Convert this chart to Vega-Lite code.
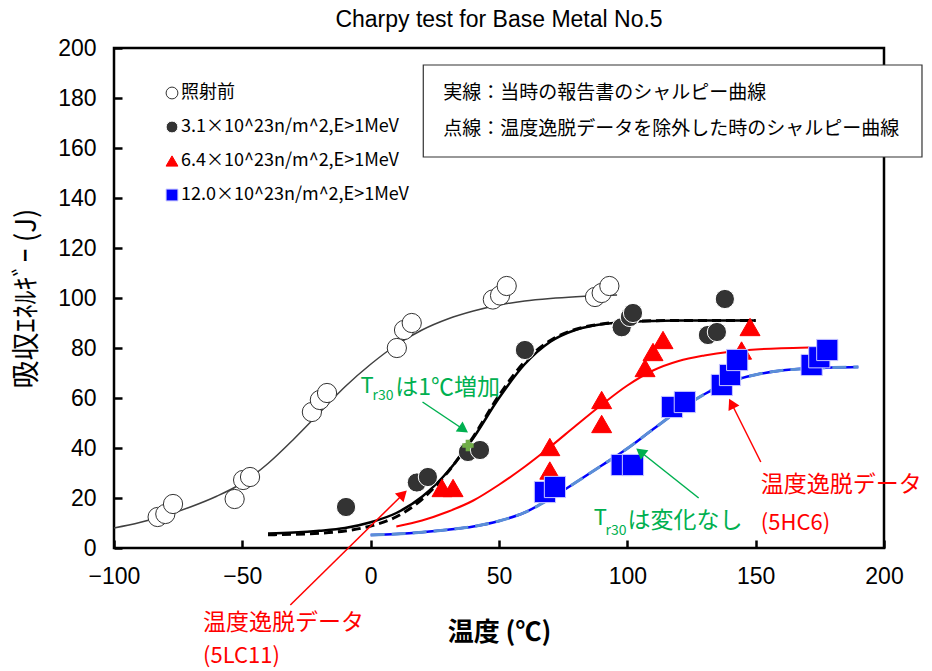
{
  "$schema": "https://vega.github.io/schema/vega-lite/v6.json",
  "width": 770,
  "height": 500,
  "autosize": {"type": "none"},
  "padding": {"left": 114, "top": 48, "right": 48, "bottom": 123},
  "background": "white",
  "title": {"text": "Charpy test for Base Metal No.5", "font": "Liberation Sans", "fontSize": 23, "fontWeight": "normal", "color": "black", "offset": 5},
  "config": {
    "view": {"stroke": "black", "strokeWidth": 2.5},
    "axis": {"grid": false, "domain": false, "labelFlush": false, "tickColor": "black", "tickWidth": 2.5, "tickSize": -8, "labelFont": "Liberation Sans", "labelFontSize": 23, "labelColor": "black", "titleColor": "black", "titleFont": "Noto Sans CJK JP"},
    "legend": {"title": null, "orient": "none", "legendX": 49, "legendY": 36, "symbolSize": 140, "labelFont": "Noto Sans CJK JP", "labelFontSize": 18, "labelColor": "black", "labelLimit": 500, "rowPadding": 16, "labelOffset": 0, "symbolStrokeWidth": 1}
  },
  "datasets": {
    "points": [
      {"s": "照射前", "T": -83, "E": 12.4}, {"s": "照射前", "T": -80, "E": 13.6}, {"s": "照射前", "T": -77, "E": 17.6},
      {"s": "照射前", "T": -53, "E": 19.6}, {"s": "照射前", "T": -49.7, "E": 27.2}, {"s": "照射前", "T": -47, "E": 28.4},
      {"s": "照射前", "T": -22.9, "E": 54.4}, {"s": "照射前", "T": -19.8, "E": 59.2}, {"s": "照射前", "T": -17, "E": 62},
      {"s": "照射前", "T": 10.2, "E": 80}, {"s": "照射前", "T": 13, "E": 87.2}, {"s": "照射前", "T": 16, "E": 90},
      {"s": "照射前", "T": 47.6, "E": 99.4}, {"s": "照射前", "T": 50.4, "E": 101}, {"s": "照射前", "T": 53, "E": 104.8},
      {"s": "照射前", "T": 87.4, "E": 100.4}, {"s": "照射前", "T": 90, "E": 102}, {"s": "照射前", "T": 93, "E": 104.8},
      {"s": "3.1×10^23n/m^2,E>1MeV", "T": -9.6, "E": 16.4}, {"s": "3.1×10^23n/m^2,E>1MeV", "T": 18, "E": 26.2}, {"s": "3.1×10^23n/m^2,E>1MeV", "T": 22.3, "E": 28.4},
      {"s": "3.1×10^23n/m^2,E>1MeV", "T": 37.9, "E": 38.4}, {"s": "3.1×10^23n/m^2,E>1MeV", "T": 42.6, "E": 39.2}, {"s": "3.1×10^23n/m^2,E>1MeV", "T": 60.1, "E": 79.2},
      {"s": "3.1×10^23n/m^2,E>1MeV", "T": 97.8, "E": 88.3}, {"s": "3.1×10^23n/m^2,E>1MeV", "T": 101, "E": 92.4}, {"s": "3.1×10^23n/m^2,E>1MeV", "T": 102.2, "E": 94},
      {"s": "3.1×10^23n/m^2,E>1MeV", "T": 131.4, "E": 85.2}, {"s": "3.1×10^23n/m^2,E>1MeV", "T": 134.9, "E": 86.4}, {"s": "3.1×10^23n/m^2,E>1MeV", "T": 138, "E": 99.6},
      {"s": "6.4×10^23n/m^2,E>1MeV", "T": 27.8, "E": 24}, {"s": "6.4×10^23n/m^2,E>1MeV", "T": 32.1, "E": 24},
      {"s": "6.4×10^23n/m^2,E>1MeV", "T": 69.8, "E": 31}, {"s": "6.4×10^23n/m^2,E>1MeV", "T": 69.8, "E": 40.4},
      {"s": "6.4×10^23n/m^2,E>1MeV", "T": 90, "E": 49.6}, {"s": "6.4×10^23n/m^2,E>1MeV", "T": 90, "E": 59.2},
      {"s": "6.4×10^23n/m^2,E>1MeV", "T": 106.9, "E": 72}, {"s": "6.4×10^23n/m^2,E>1MeV", "T": 110, "E": 78.4}, {"s": "6.4×10^23n/m^2,E>1MeV", "T": 113.9, "E": 83.2},
      {"s": "6.4×10^23n/m^2,E>1MeV", "T": 144.5, "E": 79}, {"s": "6.4×10^23n/m^2,E>1MeV", "T": 147.8, "E": 88.4},
      {"s": "12.0×10^23n/m^2,E>1MeV", "T": 67.9, "E": 22.4}, {"s": "12.0×10^23n/m^2,E>1MeV", "T": 71.8, "E": 24.4},
      {"s": "12.0×10^23n/m^2,E>1MeV", "T": 97.8, "E": 33.2}, {"s": "12.0×10^23n/m^2,E>1MeV", "T": 102.2, "E": 33.2},
      {"s": "12.0×10^23n/m^2,E>1MeV", "T": 117.4, "E": 56.4}, {"s": "12.0×10^23n/m^2,E>1MeV", "T": 122.4, "E": 58.4},
      {"s": "12.0×10^23n/m^2,E>1MeV", "T": 136.8, "E": 65.2}, {"s": "12.0×10^23n/m^2,E>1MeV", "T": 140, "E": 69.2}, {"s": "12.0×10^23n/m^2,E>1MeV", "T": 142.8, "E": 75.2},
      {"s": "12.0×10^23n/m^2,E>1MeV", "T": 171.8, "E": 73.2}, {"s": "12.0×10^23n/m^2,E>1MeV", "T": 174.8, "E": 76.3}, {"s": "12.0×10^23n/m^2,E>1MeV", "T": 177.9, "E": 79.2}
    ],
    "curves": [
      {"c": "open", "T": -100, "E": 8}, {"c": "open", "T": -90, "E": 10.2}, {"c": "open", "T": -80, "E": 13}, {"c": "open", "T": -70, "E": 16.5},
      {"c": "open", "T": -60, "E": 20.7}, {"c": "open", "T": -50, "E": 26}, {"c": "open", "T": -40, "E": 33.8}, {"c": "open", "T": -30, "E": 43.5},
      {"c": "open", "T": -20, "E": 54}, {"c": "open", "T": -10, "E": 64.5}, {"c": "open", "T": 0, "E": 73.5}, {"c": "open", "T": 10, "E": 81.2},
      {"c": "open", "T": 20, "E": 87.2}, {"c": "open", "T": 30, "E": 91.6}, {"c": "open", "T": 40, "E": 94.8}, {"c": "open", "T": 50, "E": 97.2},
      {"c": "open", "T": 60, "E": 98.8}, {"c": "open", "T": 70, "E": 99.8}, {"c": "open", "T": 80, "E": 100.5}, {"c": "open", "T": 90, "E": 101}, {"c": "open", "T": 96, "E": 101.2},
      {"c": "black", "T": -40, "E": 5.8}, {"c": "black", "T": -30, "E": 6.2}, {"c": "black", "T": -20, "E": 6.9}, {"c": "black", "T": -10, "E": 8},
      {"c": "black", "T": 0, "E": 10.3}, {"c": "black", "T": 10, "E": 14}, {"c": "black", "T": 20, "E": 20.5}, {"c": "black", "T": 30, "E": 30.5},
      {"c": "black", "T": 40, "E": 44}, {"c": "black", "T": 50, "E": 60}, {"c": "black", "T": 60, "E": 73.5}, {"c": "black", "T": 70, "E": 82.5},
      {"c": "black", "T": 80, "E": 87.3}, {"c": "black", "T": 90, "E": 89.5}, {"c": "black", "T": 100, "E": 90.4}, {"c": "black", "T": 110, "E": 90.8},
      {"c": "black", "T": 120, "E": 91}, {"c": "black", "T": 130, "E": 91}, {"c": "black", "T": 140, "E": 91}, {"c": "black", "T": 150, "E": 91},
      {"c": "blackdash", "T": -40, "E": 5.3}, {"c": "blackdash", "T": -30, "E": 5.5}, {"c": "blackdash", "T": -20, "E": 5.9}, {"c": "blackdash", "T": -10, "E": 6.8},
      {"c": "blackdash", "T": 0, "E": 8.8}, {"c": "blackdash", "T": 10, "E": 12.5}, {"c": "blackdash", "T": 20, "E": 19.5}, {"c": "blackdash", "T": 30, "E": 30.3},
      {"c": "blackdash", "T": 40, "E": 44.5}, {"c": "blackdash", "T": 50, "E": 61}, {"c": "blackdash", "T": 60, "E": 74.5}, {"c": "blackdash", "T": 70, "E": 83},
      {"c": "blackdash", "T": 80, "E": 87.5}, {"c": "blackdash", "T": 90, "E": 89.6}, {"c": "blackdash", "T": 100, "E": 90.5}, {"c": "blackdash", "T": 110, "E": 90.9},
      {"c": "blackdash", "T": 120, "E": 91}, {"c": "blackdash", "T": 130, "E": 91}, {"c": "blackdash", "T": 140, "E": 91}, {"c": "blackdash", "T": 150, "E": 91},
      {"c": "red", "T": 10, "E": 8.6}, {"c": "red", "T": 20, "E": 11}, {"c": "red", "T": 30, "E": 14.5}, {"c": "red", "T": 40, "E": 19},
      {"c": "red", "T": 50, "E": 25.3}, {"c": "red", "T": 60, "E": 32.5}, {"c": "red", "T": 70, "E": 40.5}, {"c": "red", "T": 80, "E": 49},
      {"c": "red", "T": 90, "E": 57.3}, {"c": "red", "T": 100, "E": 65}, {"c": "red", "T": 110, "E": 71}, {"c": "red", "T": 120, "E": 74.8},
      {"c": "red", "T": 130, "E": 77}, {"c": "red", "T": 140, "E": 78.5}, {"c": "red", "T": 150, "E": 79.4}, {"c": "red", "T": 160, "E": 79.9}, {"c": "red", "T": 171, "E": 80.2},
      {"c": "blue", "T": 0, "E": 5.2}, {"c": "blue", "T": 10, "E": 5.6}, {"c": "blue", "T": 20, "E": 6.3}, {"c": "blue", "T": 30, "E": 7.3},
      {"c": "blue", "T": 40, "E": 8.6}, {"c": "blue", "T": 50, "E": 10.8}, {"c": "blue", "T": 60, "E": 14.2}, {"c": "blue", "T": 70, "E": 19.8},
      {"c": "blue", "T": 80, "E": 26.3}, {"c": "blue", "T": 90, "E": 33}, {"c": "blue", "T": 100, "E": 39.8}, {"c": "blue", "T": 110, "E": 47.5},
      {"c": "blue", "T": 120, "E": 55}, {"c": "blue", "T": 130, "E": 61.5}, {"c": "blue", "T": 140, "E": 66.5}, {"c": "blue", "T": 150, "E": 69.3},
      {"c": "blue", "T": 160, "E": 71}, {"c": "blue", "T": 170, "E": 71.8}, {"c": "blue", "T": 180, "E": 72.2}, {"c": "blue", "T": 190, "E": 72.4}
    ],
    "notes": [{"k": "one"}]
  },
  "layer": [
    {"data": {"name": "curves"}, "transform": [{"filter": "datum.c === 'open'"}], "mark": {"type": "line", "interpolate": "monotone", "color": "#404040", "strokeWidth": 1.5},
      "encoding": {
        "x": {"field": "T", "type": "quantitative", "scale": {"domain": [-100, 200], "nice": false, "zero": false},
          "axis": {"values": [-100, -50, 0, 50, 100, 150, 200], "labelPadding": 25, "title": "温度 (℃)", "titleFontSize": 26, "titleFontWeight": "bold", "titleY": 92, "titleBaseline": "alphabetic"}},
        "y": {"field": "E", "type": "quantitative", "scale": {"domain": [0, 200], "nice": false, "zero": false},
          "axis": {"values": [0, 20, 40, 60, 80, 100, 120, 140, 160, 180, 200], "labelPadding": 26, "title": "吸収ｴﾈﾙｷﾞｰ (J)", "titleFontSize": 28, "titleFontWeight": "normal", "titleX": -87, "titleY": 250, "titleAlign": "center", "titleBaseline": "middle"}}
      }},
    {"data": {"name": "curves"}, "transform": [{"filter": "datum.c === 'black'"}], "mark": {"type": "line", "interpolate": "monotone", "color": "black", "strokeWidth": 2.5},
      "encoding": {"x": {"field": "T", "type": "quantitative"}, "y": {"field": "E", "type": "quantitative"}}},
    {"data": {"name": "curves"}, "transform": [{"filter": "datum.c === 'blackdash'"}], "mark": {"type": "line", "interpolate": "monotone", "color": "black", "strokeWidth": 3, "strokeDash": [9, 5]},
      "encoding": {"x": {"field": "T", "type": "quantitative"}, "y": {"field": "E", "type": "quantitative"}}},
    {"data": {"name": "curves"}, "transform": [{"filter": "datum.c === 'red'"}], "mark": {"type": "line", "interpolate": "monotone", "color": "#ff0000", "strokeWidth": 2},
      "encoding": {"x": {"field": "T", "type": "quantitative"}, "y": {"field": "E", "type": "quantitative"}}},
    {"data": {"name": "curves"}, "transform": [{"filter": "datum.c === 'blue'"}], "mark": {"type": "line", "interpolate": "monotone", "color": "#0000ff", "strokeWidth": 2.5},
      "encoding": {"x": {"field": "T", "type": "quantitative"}, "y": {"field": "E", "type": "quantitative"}}},
    {"data": {"name": "curves"}, "transform": [{"filter": "datum.c === 'blue'"}], "mark": {"type": "line", "interpolate": "monotone", "color": "#5b8fd6", "strokeWidth": 3, "strokeDash": [14, 7]},
      "encoding": {"x": {"field": "T", "type": "quantitative"}, "y": {"field": "E", "type": "quantitative"}}},
    {
      "data": {"name": "points"},
      "transform": [{"filter": "datum.s === '照射前'"}],
      "mark": {"type": "point", "filled": true, "opacity": 1, "strokeWidth": 1, "size": 370},
      "encoding": {
        "x": {"field": "T", "type": "quantitative"}, "y": {"field": "E", "type": "quantitative"},
        "shape": {"field": "s", "type": "nominal", "scale": {"domain": ["照射前", "3.1×10^23n/m^2,E>1MeV", "6.4×10^23n/m^2,E>1MeV", "12.0×10^23n/m^2,E>1MeV"], "range": ["circle", "circle", "triangle-up", "square"]}},
        "fill": {"field": "s", "type": "nominal", "scale": {"domain": ["照射前", "3.1×10^23n/m^2,E>1MeV", "6.4×10^23n/m^2,E>1MeV", "12.0×10^23n/m^2,E>1MeV"], "range": ["#ffffff", "#333333", "#ff0000", "#0000ff"]}},
        "stroke": {"field": "s", "type": "nominal", "scale": {"domain": ["照射前", "3.1×10^23n/m^2,E>1MeV", "6.4×10^23n/m^2,E>1MeV", "12.0×10^23n/m^2,E>1MeV"], "range": ["#333333", "#ffffff", "#ff0000", "#c8c8ff"]}}
      }
    },
    {
      "data": {"name": "points"},
      "transform": [{"filter": "datum.s === '3.1×10^23n/m^2,E>1MeV'"}],
      "mark": {"type": "point", "filled": true, "opacity": 1, "strokeWidth": 1, "size": 370},
      "encoding": {
        "x": {"field": "T", "type": "quantitative"}, "y": {"field": "E", "type": "quantitative"},
        "shape": {"field": "s", "type": "nominal"},
        "fill": {"field": "s", "type": "nominal"},
        "stroke": {"field": "s", "type": "nominal"}
      }
    },
    {
      "data": {"name": "points"},
      "transform": [{"filter": "datum.s === '6.4×10^23n/m^2,E>1MeV'"}],
      "mark": {"type": "point", "filled": true, "opacity": 1, "strokeWidth": 1, "size": 400},
      "encoding": {
        "x": {"field": "T", "type": "quantitative"}, "y": {"field": "E", "type": "quantitative"},
        "shape": {"field": "s", "type": "nominal"},
        "fill": {"field": "s", "type": "nominal"},
        "stroke": {"field": "s", "type": "nominal"}
      }
    },
    {
      "data": {"name": "points"},
      "transform": [{"filter": "datum.s === '12.0×10^23n/m^2,E>1MeV'"}],
      "mark": {"type": "point", "filled": true, "opacity": 1, "strokeWidth": 1, "size": 450},
      "encoding": {
        "x": {"field": "T", "type": "quantitative"}, "y": {"field": "E", "type": "quantitative"},
        "shape": {"field": "s", "type": "nominal"},
        "fill": {"field": "s", "type": "nominal"},
        "stroke": {"field": "s", "type": "nominal"}
      }
    },
    {"data": {"name": "notes"}, "mark": {"type": "point", "shape": "cross", "filled": true, "color": "#70ad47", "size": 130, "opacity": 1},
      "encoding": {"x": {"datum": 37.9, "type": "quantitative"}, "y": {"datum": 41, "type": "quantitative"}}},
    {"data": {"name": "notes"}, "mark": {"type": "rect", "fill": "white", "stroke": "#333333", "strokeWidth": 1.2},
      "encoding": {"x": {"datum": 20.5, "type": "quantitative"}, "x2": {"datum": 214.8}, "y": {"datum": 193.2, "type": "quantitative"}, "y2": {"datum": 156.4}}},
    {"data": {"name": "notes"}, "mark": {"type": "text", "text": "実線：当時の報告書のシャルピー曲線", "align": "left", "baseline": "alphabetic", "font": "Noto Sans CJK JP", "fontSize": 19, "color": "black"},
      "encoding": {"x": {"datum": 28.3, "type": "quantitative"}, "y": {"datum": 179.8, "type": "quantitative"}}},
    {"data": {"name": "notes"}, "mark": {"type": "text", "text": "点線：温度逸脱データを除外した時のシャルピー曲線", "align": "left", "baseline": "alphabetic", "font": "Noto Sans CJK JP", "fontSize": 19, "color": "black"},
      "encoding": {"x": {"datum": 28.3, "type": "quantitative"}, "y": {"datum": 165.2, "type": "quantitative"}}},
    {"data": {"name": "notes"}, "mark": {"type": "rule", "color": "#00b050", "strokeWidth": 1.5},
      "encoding": {"x": {"datum": 20.2, "type": "quantitative"}, "y": {"datum": 58.4, "type": "quantitative"}, "x2": {"datum": 36.2}, "y2": {"datum": 47.4}}},
    {"data": {"name": "notes"}, "mark": {"type": "point", "shape": "triangle-up", "filled": true, "color": "#00b050", "size": 150, "opacity": 1, "angle": 124},
      "encoding": {"x": {"datum": 36.2, "type": "quantitative"}, "y": {"datum": 47.4, "type": "quantitative"}}},
    {"data": {"name": "notes"}, "mark": {"type": "rule", "color": "#00b050", "strokeWidth": 1.5},
      "encoding": {"x": {"datum": 127.8, "type": "quantitative"}, "y": {"datum": 20, "type": "quantitative"}, "x2": {"datum": 105.1}, "y2": {"datum": 38.5}}},
    {"data": {"name": "notes"}, "mark": {"type": "point", "shape": "triangle-up", "filled": true, "color": "#00b050", "size": 150, "opacity": 1, "angle": 308},
      "encoding": {"x": {"datum": 105.1, "type": "quantitative"}, "y": {"datum": 38.5, "type": "quantitative"}}},
    {"data": {"name": "notes"}, "mark": {"type": "rule", "color": "#ff0000", "strokeWidth": 1.5},
      "encoding": {"x": {"datum": 152, "type": "quantitative"}, "y": {"datum": 34.4, "type": "quantitative"}, "x2": {"datum": 140.6}, "y2": {"datum": 57.8}}},
    {"data": {"name": "notes"}, "mark": {"type": "point", "shape": "triangle-up", "filled": true, "color": "#ff0000", "size": 150, "opacity": 1, "angle": 333},
      "encoding": {"x": {"datum": 140.6, "type": "quantitative"}, "y": {"datum": 57.8, "type": "quantitative"}}},
    {"data": {"name": "notes"}, "mark": {"type": "rule", "color": "#ff0000", "strokeWidth": 1.5},
      "encoding": {"x": {"datum": -31.3, "type": "quantitative"}, "y": {"datum": -22.8, "type": "quantitative"}, "x2": {"datum": 12.6}, "y2": {"datum": 21.5}}},
    {"data": {"name": "notes"}, "mark": {"type": "point", "shape": "triangle-up", "filled": true, "color": "#ff0000", "size": 150, "opacity": 1, "angle": 45.5},
      "encoding": {"x": {"datum": 12.6, "type": "quantitative"}, "y": {"datum": 21.5, "type": "quantitative"}}},
    {"data": {"name": "notes"}, "mark": {"type": "text", "text": "T", "align": "left", "baseline": "alphabetic", "font": "Noto Sans CJK JP", "fontSize": 22, "color": "#00b050"},
      "encoding": {"x": {"datum": -4, "type": "quantitative"}, "y": {"datum": 62, "type": "quantitative"}}},
    {"data": {"name": "notes"}, "mark": {"type": "text", "text": "r30", "align": "left", "baseline": "alphabetic", "font": "Noto Sans CJK JP", "fontSize": 14, "color": "#00b050"},
      "encoding": {"x": {"datum": 0.7, "type": "quantitative"}, "y": {"datum": 59.2, "type": "quantitative"}}},
    {"data": {"name": "notes"}, "mark": {"type": "text", "text": "は1℃増加", "align": "left", "baseline": "alphabetic", "font": "Noto Sans CJK JP", "fontSize": 23, "color": "#00b050"},
      "encoding": {"x": {"datum": 9.6, "type": "quantitative"}, "y": {"datum": 61.2, "type": "quantitative"}}},
    {"data": {"name": "notes"}, "mark": {"type": "text", "text": "T", "align": "left", "baseline": "alphabetic", "font": "Noto Sans CJK JP", "fontSize": 22, "color": "#00b050"},
      "encoding": {"x": {"datum": 86.9, "type": "quantitative"}, "y": {"datum": 9.2, "type": "quantitative"}}},
    {"data": {"name": "notes"}, "mark": {"type": "text", "text": "r30", "align": "left", "baseline": "alphabetic", "font": "Noto Sans CJK JP", "fontSize": 14, "color": "#00b050"},
      "encoding": {"x": {"datum": 91.5, "type": "quantitative"}, "y": {"datum": 5.2, "type": "quantitative"}}},
    {"data": {"name": "notes"}, "mark": {"type": "text", "text": "は変化なし", "align": "left", "baseline": "alphabetic", "font": "Noto Sans CJK JP", "fontSize": 23, "color": "#00b050"},
      "encoding": {"x": {"datum": 100.1, "type": "quantitative"}, "y": {"datum": 8, "type": "quantitative"}}},
    {"data": {"name": "notes"}, "mark": {"type": "text", "text": "(5HC6)", "align": "left", "baseline": "alphabetic", "font": "Noto Sans CJK JP", "fontSize": 22, "color": "#ff0000"},
      "encoding": {"x": {"datum": 152, "type": "quantitative"}, "y": {"datum": 7.4, "type": "quantitative"}}},
    {"data": {"name": "notes"}, "mark": {"type": "text", "text": "温度逸脱データ", "align": "left", "baseline": "alphabetic", "font": "Noto Sans CJK JP", "fontSize": 23, "color": "#ff0000"},
      "encoding": {"x": {"datum": 152, "type": "quantitative"}, "y": {"datum": 22.4, "type": "quantitative"}}},
    {"data": {"name": "notes"}, "mark": {"type": "text", "text": "温度逸脱データ", "align": "left", "baseline": "alphabetic", "font": "Noto Sans CJK JP", "fontSize": 23, "color": "#ff0000"},
      "encoding": {"x": {"datum": -65.3, "type": "quantitative"}, "y": {"datum": -32.6, "type": "quantitative"}}},
    {"data": {"name": "notes"}, "mark": {"type": "text", "text": "(5LC11)", "align": "left", "baseline": "alphabetic", "font": "Noto Sans CJK JP", "fontSize": 22, "color": "#ff0000"},
      "encoding": {"x": {"datum": -65.3, "type": "quantitative"}, "y": {"datum": -46, "type": "quantitative"}}}
  ]
}
